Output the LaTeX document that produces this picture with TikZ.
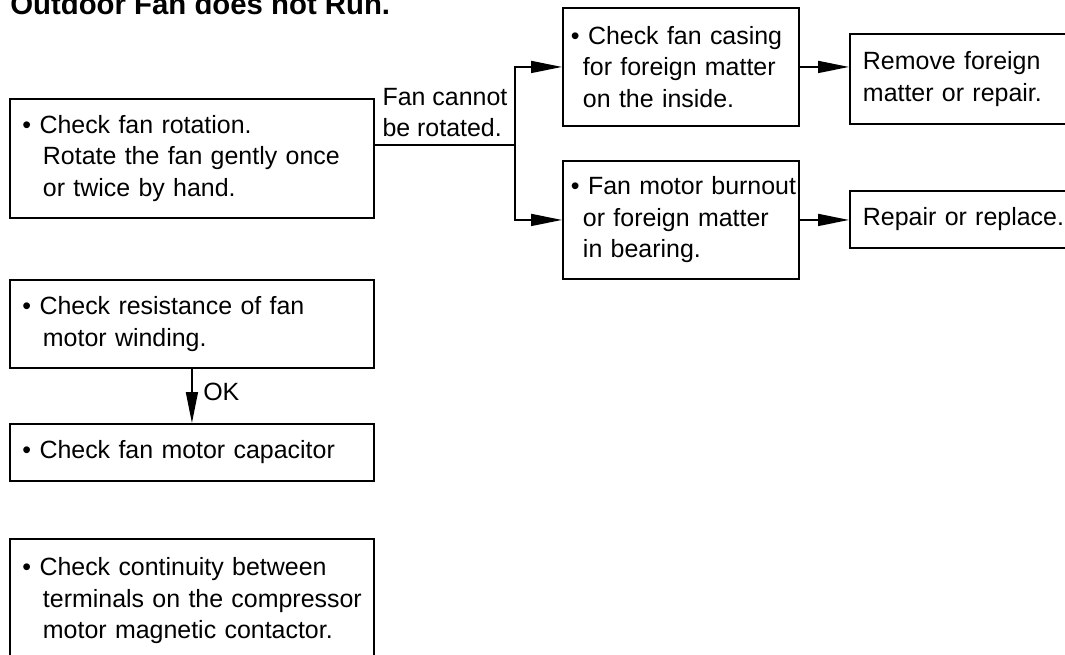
\documentclass[tikz,border=0pt]{standalone}
\usepackage{fontspec}
\setmainfont{Liberation Sans}
\usetikzlibrary{arrows.meta}
\newcommand{\bul}{\textbullet~}
\newcommand{\rient}[1][0.41cm]{\hspace*{#1}}

\begin{document}
\begin{tikzpicture}[x=0.02cm, y=-0.02cm,
    every node/.style={font=\fontsize{14.2}{17.9}\selectfont},
    box/.style={draw, line width=1.1pt, anchor=north west, align=left, inner ysep=0pt,
        execute at begin node={\hyphenpenalty=10000\exhyphenpenalty=10000}},
    lbox/.style={box, inner xsep=0.25cm, text width=6.78cm},
    rbox/.style={box, inner xsep=0.16cm, text width=4.4cm},
    fbox/.style={box, inner xsep=0.26cm, text width=5cm},
    linea/.style={line width=0.9pt},
    freccia/.style={linea, -{Triangle[length=6.2mm, width=2.4mm]}}]
    \useasboundingbox (0,0) rectangle (1065,655);
    \clip (0,0) rectangle (1065,655);

    %titolo
    \node[anchor=base west, inner sep=0pt, font=\bfseries\fontsize{16.7}{20}\selectfont] (titolo) at (10,15) {Outdoor Fan does not Run.};

    %riquadri
    \node[lbox, minimum height=2.38cm] (rot) at (9,98) {\bul Check fan rotation.\\\rient Rotate~the~fan~gently~once\\\rient or twice by hand.};
    \node[rbox, minimum height=2.36cm] (cas) at (562,7) {\bul Check~fan~casing\\\rient[0.24cm]for~foreign~matter\\\rient[0.24cm]on the inside.};
    \node[rbox, minimum height=2.36cm] (mot) at (562,160) {\bul Fan~motor~burnout\\\rient[0.24cm]or~foreign~matter\\\rient[0.24cm]in bearing.};
    \node[fbox, minimum height=1.8cm] (rem) at (849,33) {Remove foreign\\matter or repair.};
    \node[fbox, minimum height=1.14cm] (rep) at (849,190) {Repair or replace.};
    \node[lbox, minimum height=1.76cm] (res) at (9,279) {\bul Check~resistance~of~fan\\\rient motor winding.};
    \node[lbox, minimum height=1.14cm] (cap) at (9,423) {\bul Check fan motor capacitor};
    \node[lbox, minimum height=2.48cm] (con) at (9,538) {\bul Check~continuity~between\\\rient terminals~on~the~compressor\\\rient motor~magnetic~contactor.};

    %collegamenti
    \coordinate (split) at (515,145);
    \draw[linea] (rot.east |- split) -- node[above, align=left, inner sep=4pt] (bloccata) {Fan cannot\\be rotated.} (split);
    \draw[freccia] (split) |- (cas.west);
    \draw[freccia] (split) |- (mot.west);
    \draw[freccia] (cas.east) -- (cas.east -| rem.west);
    \draw[freccia] (mot.east) -- (mot.east -| rep.west);
    \draw[freccia] (res.south) -- node[right, pos=0.42, xshift=6pt, inner sep=0pt] (ok) {OK} (cap.north);
\end{tikzpicture}
\end{document}
